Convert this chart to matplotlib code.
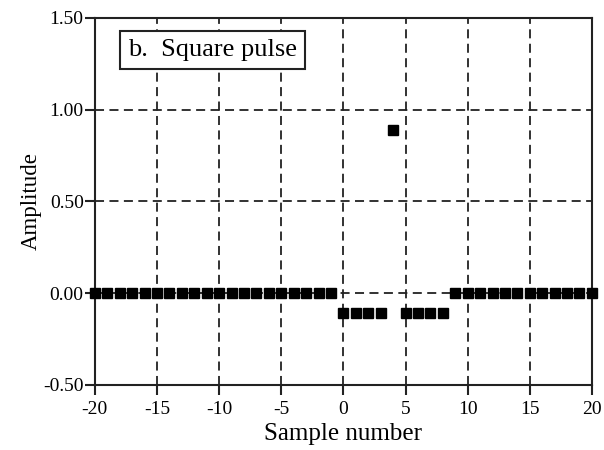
import numpy as np
import matplotlib
matplotlib.use("Agg")
import matplotlib.pyplot as plt

# Sample indices and amplitudes of the signal
samples = list(range(-20, 21))
pre_zeros = [0.0] * 20                      # samples -20 .. -1
pulse = [-0.11, -0.11, -0.11, -0.11, 0.89,  # samples 0 .. 8
         -0.11, -0.11, -0.11, -0.11]
post_zeros = [0.0] * 12                     # samples 9 .. 20
amplitude = pre_zeros + pulse + post_zeros

x_ticks = [-20, -15, -10, -5, 0, 5, 10, 15, 20]
x_tick_labels = ["-20", "-15", "-10", "-5", "0", "5", "10", "15", "20"]
y_ticks = [-0.5, 0.0, 0.5, 1.0, 1.5]
y_tick_labels = ["-0.50", "0.00", "0.50", "1.00", "1.50"]

plt.rcParams["font.family"] = ["Liberation Serif", "DejaVu Serif"]

fig = plt.figure(figsize=(6.04, 4.5), dpi=100)
ax = fig.add_axes([0.157, 0.145, 0.823, 0.815])

ax.plot(samples, amplitude, linestyle="none", marker="s", markersize=7,
        color="black", zorder=3, clip_on=False)

ax.set_xlim(-20, 20)
ax.set_ylim(-0.5, 1.5)
ax.set_xticks(x_ticks)
ax.set_xticklabels(x_tick_labels)
ax.set_yticks(y_ticks)
ax.set_yticklabels(y_tick_labels)

ax.grid(True, color="#222222", linestyle=(0, (5, 3)), linewidth=1.3)
ax.set_axisbelow(True)
for s in ax.spines.values():
    s.set_color("#222222")
    s.set_linewidth(1.5)

ax.tick_params(axis="both", direction="out", length=7, width=1.5,
               color="#222222", labelsize=14, pad=1)
ax.tick_params(axis="x", pad=5)

ax.set_xlabel("Sample number", fontsize=18, labelpad=3)
ax.set_ylabel("Amplitude", fontsize=16.5, labelpad=1)

ax.text(0.066, 0.912, "b.  Square pulse", transform=ax.transAxes,
        fontsize=19, va="center", ha="left",
        bbox=dict(boxstyle="square,pad=0.3", facecolor="white",
                  edgecolor="#222222", linewidth=1.5), zorder=4)

fig.savefig("out.png", dpi=100, facecolor="white")
